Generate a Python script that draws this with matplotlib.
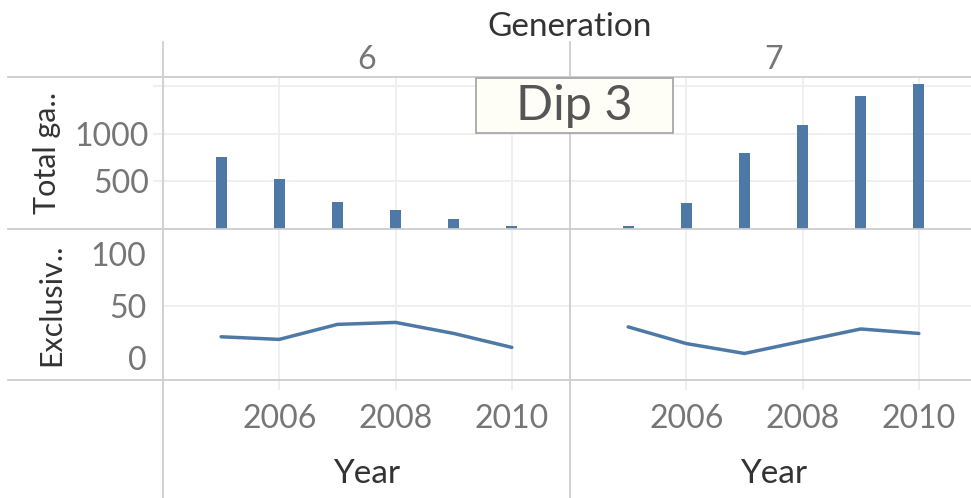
import matplotlib
matplotlib.use("Agg")
import matplotlib.pyplot as plt
from matplotlib.lines import Line2D
from matplotlib.patches import Rectangle

plt.rcParams['font.family'] = ['Lato', 'DejaVu Sans']

W, H = 971, 498

generations = ["6", "7"]
years = [2005, 2006, 2007, 2008, 2009, 2010]
total_games = {
    "6": [755, 524, 283, 199, 105, 35],
    "7": [35, 272, 797, 1090, 1394, 1520],
}
exclusives = {
    "6": [20.5, 18, 32.4, 34.3, 23.7, 10.3],
    "7": [30, 14, 4.5, 16.3, 28, 23.7],
}
year_ticks = [2006, 2008, 2010]
total_ticks = [500, 1000, 1500]
total_labels = ["500", "1000", ""]
excl_ticks = [0, 50, 100]

BLUE = "#4e79a7"
GRID = "#efefef"
BORDER = "#cdcdcd"
TICK_TXT = "#767676"
DARK = "#333333"


def rect(x0, y0, x1, y1):
    return [x0 / W, 1 - y1 / H, (x1 - x0) / W, (y1 - y0) / H]


def hline(fig, y, x0, x1, color=BORDER, lw=1.3):
    fig.add_artist(Line2D([x0 / W, x1 / W], [1 - y / H, 1 - y / H],
                          transform=fig.transFigure, color=color, lw=lw, zorder=5))


def vline(fig, x, y0, y1, color=BORDER, lw=1.3):
    fig.add_artist(Line2D([x / W, x / W], [1 - y0 / H, 1 - y1 / H],
                          transform=fig.transFigure, color=color, lw=lw, zorder=5))


def style(ax):
    for s in ax.spines.values():
        s.set_visible(False)
    ax.set_facecolor("none")
    ax.grid(True, color=GRID, lw=1.4)
    ax.set_axisbelow(True)
    ax.set_xlim(2004, 2011)
    ax.set_xticks(year_ticks)


def main():
    fig = plt.figure(figsize=(W / 100, H / 100), dpi=100)

    cols = {"6": (163, 570), "7": (570, 977)}
    for g in generations:
        x0, x1 = cols[g]
        first = g == "6"

        ax1 = fig.add_axes(rect(x0, 77, x1, 229))
        style(ax1)
        ax1.bar(years, total_games[g], width=0.19, color=BLUE, zorder=3)
        ax1.set_ylim(0, 1593)
        ax1.set_yticks(total_ticks)
        ax1.tick_params(axis="x", length=0, labelbottom=False)
        if first:
            ax1.set_yticklabels(total_labels)
            ax1.tick_params(axis="y", length=7, color=GRID, width=1.4, pad=3,
                            labelsize=23, labelcolor=TICK_TXT)
            ax1.set_ylabel("Total ga..", fontsize=22, color=DARK, labelpad=10)
        else:
            ax1.tick_params(axis="y", length=0, labelleft=False)

        ax2 = fig.add_axes(rect(x0, 229, x1, 380))
        style(ax2)
        ax2.plot(years, exclusives[g], color=BLUE, lw=2.5, solid_capstyle="round", zorder=3)
        ax2.set_ylim(-21, 124)
        ax2.set_yticks(excl_ticks)
        ax2.grid(False, axis="y")
        ax2.axhline(50, color=GRID, lw=1.4, zorder=0)
        ax2.tick_params(axis="x", length=7, color=GRID, width=1.4, pad=10,
                        labelsize=23, labelcolor=TICK_TXT)
        ax2.set_xlabel("Year", fontsize=24, color=DARK, labelpad=18)
        if first:
            ax2.tick_params(axis="y", length=0, pad=12, labelsize=23, labelcolor=TICK_TXT)
            ax2.set_ylabel("Exclusiv..", fontsize=22, color=DARK, labelpad=18)
        else:
            ax2.tick_params(axis="y", length=0, labelleft=False)

        fig.text((x0 + x1) / 2 / W, 1 - 60 / H, g, ha="center", va="center",
                 fontsize=23, color=TICK_TXT)

    # header and panel borders
    fig.text(570 / W, 1 - 27 / H, "Generation", ha="center", va="center",
             fontsize=24, color=DARK)
    vline(fig, 163, 42, 498)
    vline(fig, 570, 42, 498)
    hline(fig, 77, 8, 971)
    hline(fig, 229, 8, 971)
    hline(fig, 380, 8, 971)

    # annotation box
    fig.add_artist(Rectangle((476 / W, 1 - 133 / H), (673 - 476) / W, (133 - 78) / H,
                             transform=fig.transFigure, facecolor="#fefef6",
                             edgecolor="#a8a8a8", lw=1.3, zorder=8))
    fig.text(574 / W, 1 - 106 / H, "Dip 3", ha="center", va="center",
             fontsize=35, color="#555555", zorder=9)

    fig.savefig("out.png", dpi=100)


if __name__ == "__main__":
    main()
